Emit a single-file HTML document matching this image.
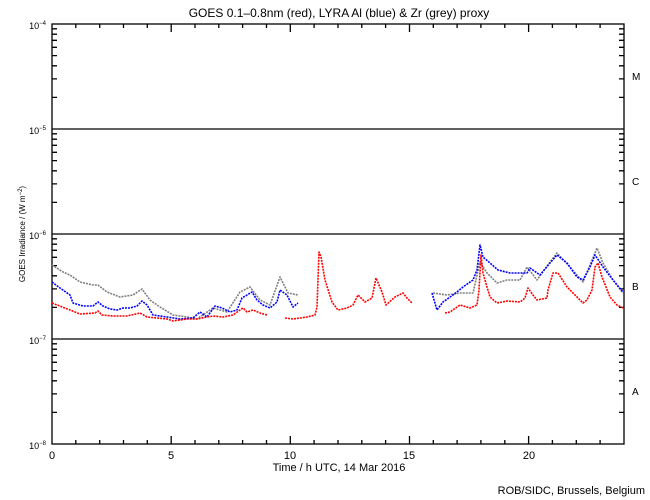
<!DOCTYPE html>
<html><head><meta charset="utf-8"><style>
html,body{margin:0;padding:0;background:#fff;}
svg{display:block;font-family:"Liberation Sans",sans-serif;}
</style></head><body>
<svg width="650" height="500" viewBox="0 0 650 500" xmlns="http://www.w3.org/2000/svg">
<rect width="650" height="500" fill="#fff"/>
<text x="339" y="17" font-size="12" text-anchor="middle">GOES 0.1–0.8nm (red), LYRA Al (blue) &amp; Zr (grey) proxy</text>
<g stroke="#000" stroke-width="1.3" fill="none">
<rect x="52" y="24" width="572" height="420"/>
<path d="M52,129H624M52,234H624M52,339H624"/>
<path d="M52,97.4h5M52,78.9h5M52,65.8h5M52,55.6h5M52,47.3h5M52,40.3h5M52,34.2h5M52,28.8h5
M52,202.4h5M52,183.9h5M52,170.8h5M52,160.6h5M52,152.3h5M52,145.3h5M52,139.2h5M52,133.8h5
M52,307.4h5M52,288.9h5M52,275.8h5M52,265.6h5M52,257.3h5M52,250.3h5M52,244.2h5M52,238.8h5
M52,412.4h5M52,393.9h5M52,380.8h5M52,370.6h5M52,362.3h5M52,355.3h5M52,349.2h5M52,343.8h5
M624,97.4h-5M624,78.9h-5M624,65.8h-5M624,55.6h-5M624,47.3h-5M624,40.3h-5M624,34.2h-5M624,28.8h-5
M624,202.4h-5M624,183.9h-5M624,170.8h-5M624,160.6h-5M624,152.3h-5M624,145.3h-5M624,139.2h-5M624,133.8h-5
M624,307.4h-5M624,288.9h-5M624,275.8h-5M624,265.6h-5M624,257.3h-5M624,250.3h-5M624,244.2h-5M624,238.8h-5
M624,412.4h-5M624,393.9h-5M624,380.8h-5M624,370.6h-5M624,362.3h-5M624,355.3h-5M624,349.2h-5M624,343.8h-5"/>
<path d="M75.8,444v-4M99.7,444v-4M123.5,444v-4M147.3,444v-4M171.2,444v-8M195,444v-4M218.8,444v-4M242.6,444v-4M266.5,444v-4M290.3,444v-8M314.1,444v-4M338,444v-4M361.8,444v-4M385.6,444v-4M409.5,444v-8M433.3,444v-4M457.1,444v-4M480.9,444v-4M504.8,444v-4M528.6,444v-8M552.4,444v-4M576.3,444v-4M600.1,444v-4
M75.8,24v4M99.7,24v4M123.5,24v4M147.3,24v4M171.2,24v8M195,24v4M218.8,24v4M242.6,24v4M266.5,24v4M290.3,24v8M314.1,24v4M338,24v4M361.8,24v4M385.6,24v4M409.5,24v8M433.3,24v4M457.1,24v4M480.9,24v4M504.8,24v4M528.6,24v8M552.4,24v4M576.3,24v4M600.1,24v4"/>
</g>
<g font-size="9" text-anchor="end">
<text x="46" y="29">10<tspan font-size="6" dy="-4">−4</tspan></text>
<text x="46" y="134">10<tspan font-size="6" dy="-4">−5</tspan></text>
<text x="46" y="239">10<tspan font-size="6" dy="-4">−6</tspan></text>
<text x="46" y="344">10<tspan font-size="6" dy="-4">−7</tspan></text>
<text x="46" y="449">10<tspan font-size="6" dy="-4">−8</tspan></text>
</g>
<g font-size="11" text-anchor="middle">
<text x="52" y="459">0</text><text x="171" y="459">5</text><text x="290" y="459">10</text><text x="409" y="459">15</text><text x="529" y="459">20</text>
<text x="339" y="471">Time / h UTC, 14 Mar 2016</text>
</g>
<g font-size="10"><text x="632" y="80">M</text><text x="632" y="185">C</text><text x="632" y="290">B</text><text x="632" y="395">A</text></g>
<text x="25" y="234" font-size="8" text-anchor="middle" transform="rotate(-90 25 234)">GOES Irradiance / (W m<tspan dy="-3" font-size="6">−2</tspan><tspan dy="3">)</tspan></text>
<text x="645" y="494" font-size="11" text-anchor="end">ROB/SIDC, Brussels, Belgium</text>
<g fill="none" stroke-width="1.6" stroke-dasharray="2 1" stroke-linejoin="round">
<polyline stroke="#808080" points="52,265 63,272 70,275 80,282 93,285 98,285 107,292 120,297 133,295 142,289 150,300 160,307 173,315 187,317 197,319 213,308 227,312 240,292 250,287 260,300 270,305 280,277 288,293 298,295"/>
<polyline stroke="#808080" points="433,293 447,295 460,293 473,293 480,262 487,273 497,283 507,280 520,280 527,267 537,280 550,262 557,253 570,267 583,282 597,248 603,263 613,280 623,293"/>
<polyline stroke="#0000ff" points="52,282 60,288 70,295 73,303 83,306 93,306 98,302 103,306 110,309 117,310 123,308 130,308 137,306 142,301 147,305 153,315 167,317 180,319 193,318 200,312 207,317 215,306 222,308 230,312 237,310 242,298 252,292 257,300 263,305 270,308 277,302 280,290 287,295 293,307 298,303"/>
<polyline stroke="#0000ff" points="432,293 437,310 443,302 453,295 463,287 473,280 477,270 480,245 483,257 490,263 498,270 510,273 527,273 530,268 540,275 550,263 557,255 567,263 577,277 583,280 590,267 595,255 603,267 613,280 623,292"/>
<polyline stroke="#ff0000" points="52,303 70,310 80,314 95,313 98,311 102,315 113,316 127,316 140,313 147,317 167,319 173,321 187,319 197,319 207,317 213,316 223,317 233,315 240,310 243,308 247,312 253,310 260,313 267,315"/>
<polyline stroke="#ff0000" points="285,318 293,319 300,318 307,317 315,315 317,307 319,252 321,257 325,280 332,302 338,310 347,308 353,305 358,295 365,302 372,298 376,278 382,292 386,305 395,297 403,293 407,298 412,303"/>
<polyline stroke="#ff0000" points="445,313 450,312 460,305 470,308 477,305 479,290 481,255 483,273 487,287 490,297 497,303 507,301 520,302 525,298 528,288 533,295 537,300 547,298 548,290 553,273 558,273 567,287 577,297 583,303 587,300 592,290 595,267 598,263 602,277 610,297 617,305 623,308"/>
</g>
</svg>
</body></html>
